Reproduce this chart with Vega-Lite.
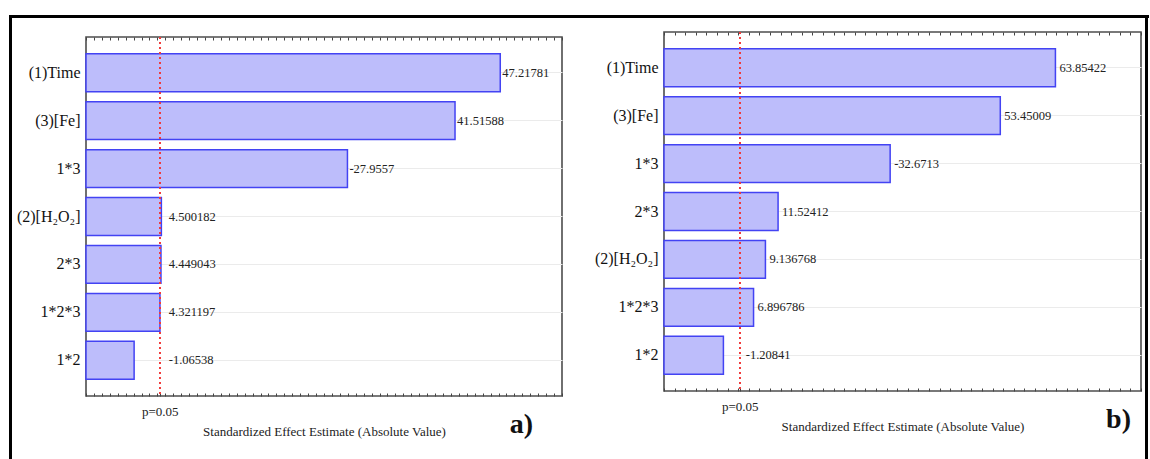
{
  "$schema": "https://vega.github.io/schema/vega-lite/v6.json",
  "padding": {"left": 9, "top": 15, "right": 0, "bottom": 0},
  "background": "white",
  "config": {
    "view": {"stroke": "#4d4d4d", "strokeWidth": 1.6},
    "font": "Liberation Serif",
    "axis": {"labelFont": "Liberation Serif", "titleFont": "Liberation Serif"}
  },
  "datasets": {
    "a": [
      {"effect": "(1)Time", "estimate": 47.21781, "label": "47.21781"},
      {"effect": "(3)[Fe]", "estimate": 41.51588, "label": "41.51588"},
      {"effect": "1*3", "estimate": 27.9557, "label": "-27.9557"},
      {"effect": "(2)[H₂O₂]", "estimate": 4.500182, "label": "4.500182"},
      {"effect": "2*3", "estimate": 4.449043, "label": "4.449043"},
      {"effect": "1*2*3", "estimate": 4.321197, "label": "4.321197"},
      {"effect": "1*2", "estimate": 1.06538, "label": "-1.06538"}
    ],
    "b": [
      {"effect": "(1)Time", "estimate": 63.85422, "label": "63.85422"},
      {"effect": "(3)[Fe]", "estimate": 53.45009, "label": "53.45009"},
      {"effect": "1*3", "estimate": 32.6713, "label": "-32.6713"},
      {"effect": "2*3", "estimate": 11.52412, "label": "11.52412"},
      {"effect": "(2)[H₂O₂]", "estimate": 9.136768, "label": "9.136768"},
      {"effect": "1*2*3", "estimate": 6.896786, "label": "6.896786"},
      {"effect": "1*2", "estimate": 1.20841, "label": "-1.20841"}
    ],
    "none": []
  },
  "spacing": 0,
  "vconcat": [
    {
      "width": 1138, "height": 1,
      "view": {"stroke": "#000000", "strokeWidth": 2},
      "data": {"name": "none"},
      "mark": "point"
    },
    {
      "spacing": 0,
      "hconcat": [
        {
          "width": 1, "height": 460,
          "view": {"stroke": "#000000", "strokeWidth": 2},
          "data": {"name": "none"},
          "mark": "point"
        },
        {
          "spacing": 15,
          "vconcat": [
            {
              "width": 476, "height": 1,
              "view": {"stroke": null},
              "data": {"name": "none"},
              "mark": "point"
            },
            {
              "width": 476, "height": 359,
              "data": {"name": "a"},
              "title": {"text": "a)", "orient": "bottom", "anchor": "end", "frame": "group", "fontSize": 28, "fontWeight": "bold", "font": "Liberation Serif", "color": "#111111", "offset": -27, "dx": -29},
              "layer": [
                {
                  "mark": {"type": "bar", "fill": "#bdbdfb", "stroke": "#4343f3", "strokeWidth": 1.5},
                  "encoding": {
                    "y": {
                      "field": "effect", "type": "nominal", "sort": null,
                      "scale": {"domain": ["(1)Time", "(3)[Fe]", "1*3", "(2)[H₂O₂]", "2*3", "1*2*3", "1*2"], "paddingInner": 0.21, "paddingOuter": 0.35},
                      "axis": {"orient": "left", "title": null, "ticks": false, "domain": false, "labelPadding": 6, "labelFontSize": 16, "labelColor": "#111111", "grid": true, "gridColor": "#ebebeb", "minExtent": 73, "maxExtent": 73}
                    },
                    "x": {
                      "field": "estimate", "type": "quantitative",
                      "scale": {"domain": [-5, 55], "nice": false, "zero": false},
                      "axis": {"orient": "bottom", "values": [-5, -4, -3, -2, -1, 0, 1, 2, 3, 4, 4.303, 5, 6, 7, 8, 9, 10, 11, 12, 13, 14, 15, 16, 17, 18, 19, 20, 21, 22, 23, 24, 25, 26, 27, 28, 29, 30, 31, 32, 33, 34, 35, 36, 37, 38, 39, 40, 41, 42, 43, 44, 45, 46, 47, 48, 49, 50, 51, 52, 53, 54, 55], "labelExpr": "datum.value == 4.303 ? 'p=0.05' : ''", "tickSize": -3, "tickColor": "#444444", "domain": false, "grid": false, "labelPadding": 12, "labelFontSize": 13, "labelColor": "#222222", "labelOverlap": false, "labelFlush": false, "labelBound": false, "title": "Standardized Effect Estimate (Absolute Value)", "titleFontSize": 13, "titleFontWeight": "normal", "titleColor": "#222222", "titlePadding": 7}
                    },
                    "x2": {"datum": -5}
                  }
                },
                {
                  "mark": {"type": "rule", "color": "#f03c3c", "strokeDash": [2, 3], "strokeWidth": 1.5},
                  "encoding": {
                    "x": {"datum": 4.303, "type": "quantitative",
                      "axis": {"orient": "top", "title": null, "labels": false, "domain": false, "grid": false, "tickCount": 60, "tickSize": -3, "tickColor": "#444444", "minExtent": 0, "maxExtent": 0}}
                  }
                },
                {
                  "transform": [{"filter": "datum.estimate >= 5"}],
                  "mark": {"type": "text", "align": "left", "baseline": "middle", "dx": 2, "fontSize": 12.5, "color": "#222222"},
                  "encoding": {
                    "y": {"field": "effect", "type": "nominal", "sort": null},
                    "x": {"field": "estimate", "type": "quantitative", "axis": null},
                    "text": {"field": "label"}
                  }
                },
                {
                  "transform": [{"filter": "datum.estimate < 5"}],
                  "mark": {"type": "text", "align": "left", "baseline": "middle", "dx": 9, "fontSize": 12.5, "color": "#222222"},
                  "encoding": {
                    "y": {"field": "effect", "type": "nominal", "sort": null},
                    "x": {"datum": 4.303, "type": "quantitative", "axis": null},
                    "text": {"field": "label"}
                  }
                }
              ],
              "resolve": {"axis": {"x": "independent"}}
            }
          ]
        },
        {
          "spacing": 10,
          "vconcat": [
            {
              "width": 481, "height": 1,
              "view": {"stroke": null},
              "data": {"name": "none"},
              "mark": "point"
            },
            {
              "width": 477, "height": 359,
              "data": {"name": "b"},
              "title": {"text": "b)", "orient": "bottom", "anchor": "end", "frame": "group", "fontSize": 28, "fontWeight": "bold", "font": "Liberation Serif", "color": "#111111", "offset": -27, "dx": -10},
              "layer": [
                {
                  "mark": {"type": "bar", "fill": "#bdbdfb", "stroke": "#4343f3", "strokeWidth": 1.5},
                  "encoding": {
                    "y": {
                      "field": "effect", "type": "nominal", "sort": null,
                      "scale": {"domain": ["(1)Time", "(3)[Fe]", "1*3", "2*3", "(2)[H₂O₂]", "1*2*3", "1*2"], "paddingInner": 0.21, "paddingOuter": 0.35},
                      "axis": {"orient": "left", "title": null, "ticks": false, "domain": false, "labelPadding": 6, "labelFontSize": 16, "labelColor": "#111111", "grid": true, "gridColor": "#ebebeb", "minExtent": 99, "maxExtent": 99}
                    },
                    "x": {
                      "field": "estimate", "type": "quantitative",
                      "scale": {"domain": [-10, 80], "nice": false, "zero": false},
                      "axis": {"orient": "bottom", "values": [-10, -8, -6, -4, -2, 0, 2, 4, 4.303, 6, 8, 10, 12, 14, 16, 18, 20, 22, 24, 26, 28, 30, 32, 34, 36, 38, 40, 42, 44, 46, 48, 50, 52, 54, 56, 58, 60, 62, 64, 66, 68, 70, 72, 74, 76, 78, 80], "labelExpr": "datum.value == 4.303 ? 'p=0.05' : ''", "tickSize": -3, "tickColor": "#444444", "domain": false, "grid": false, "labelPadding": 12, "labelFontSize": 13, "labelColor": "#222222", "labelOverlap": false, "labelFlush": false, "labelBound": false, "title": "Standardized Effect Estimate (Absolute Value)", "titleFontSize": 13, "titleFontWeight": "normal", "titleColor": "#222222", "titlePadding": 7}
                    },
                    "x2": {"datum": -10}
                  }
                },
                {
                  "mark": {"type": "rule", "color": "#f03c3c", "strokeDash": [2, 3], "strokeWidth": 1.5},
                  "encoding": {
                    "x": {"datum": 4.303, "type": "quantitative",
                      "axis": {"orient": "top", "title": null, "labels": false, "domain": false, "grid": false, "tickCount": 45, "tickSize": -3, "tickColor": "#444444", "minExtent": 0, "maxExtent": 0}}
                  }
                },
                {
                  "transform": [{"filter": "datum.estimate >= 4.303"}],
                  "mark": {"type": "text", "align": "left", "baseline": "middle", "dx": 4, "fontSize": 12.5, "color": "#222222"},
                  "encoding": {
                    "y": {"field": "effect", "type": "nominal", "sort": null},
                    "x": {"field": "estimate", "type": "quantitative", "axis": null},
                    "text": {"field": "label"}
                  }
                },
                {
                  "transform": [{"filter": "datum.estimate < 4.303"}],
                  "mark": {"type": "text", "align": "left", "baseline": "middle", "dx": 6, "fontSize": 12.5, "color": "#222222"},
                  "encoding": {
                    "y": {"field": "effect", "type": "nominal", "sort": null},
                    "x": {"datum": 4.303, "type": "quantitative", "axis": null},
                    "text": {"field": "label"}
                  }
                }
              ],
              "resolve": {"axis": {"x": "independent"}}
            }
          ]
        },
        {
          "width": 1, "height": 460,
          "view": {"stroke": "#000000", "strokeWidth": 2},
          "data": {"name": "none"},
          "mark": "point"
        }
      ]
    }
  ]
}
